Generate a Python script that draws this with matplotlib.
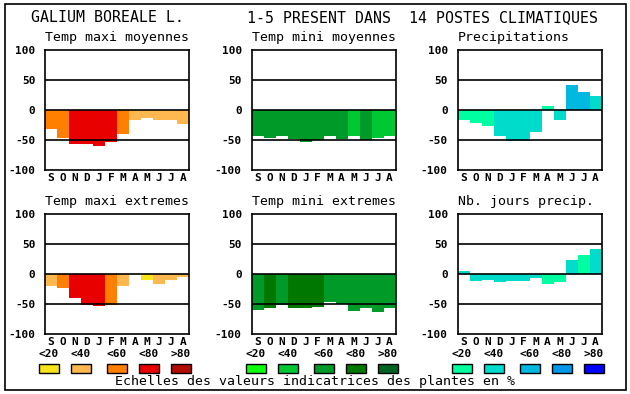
import matplotlib
matplotlib.use('Agg')
import matplotlib.pyplot as plt
import matplotlib.patches as patches

months = ['S', 'O', 'N', 'D', 'J', 'F', 'M', 'A', 'M', 'J', 'J', 'A']
classes = ['<20', '<40', '<60', '<80', '>80']

# colour scales (one per column of panels)
reds = ['#f8e418', '#ffb850', '#ff8000', '#e80000', '#b00c00']
greens = ['#10ff10', '#00c832', '#009a28', '#007800', '#006420']
blues = ['#00ffa0', '#00dccc', '#00b8e0', '#0098e8', '#0000ff']

titles = ['Temp maxi moyennes', 'Temp mini moyennes', 'Precipitations',
          'Temp maxi extremes', 'Temp mini extremes', 'Nb. jours precip.']

# values in % and colour class of each bar (-1 = white)
maxi_moy = [-31, -46, -56, -57, -60, -54, -40, -17, -14, -17, -16, -24]
maxi_moy_cls = [2, 2, 3, 3, 3, 3, 2, 1, 1, 1, 1, 1]
mini_moy = [-44, -46, -44, -48, -54, -50, -43, -48, -44, -50, -46, -43]
mini_moy_cls = [2, 2, 2, 2, 2, 2, 2, 2, 1, 2, 1, 1]
precip = [-16, -22, -27, -44, -52, -52, -37, 6, -17, 42, 30, 24]
precip_cls = [0, 0, 0, 1, 1, 1, 1, 0, 1, 2, 2, 1]
maxi_ext = [-20, -24, -40, -52, -54, -52, -20, -2, -10, -17, -10, -5]
maxi_ext_cls = [1, 2, 3, 3, 3, 2, 1, -1, 0, 1, 1, 1]
mini_ext = [-60, -57, -52, -57, -57, -55, -46, -50, -62, -56, -64, -57]
mini_ext_cls = [2, 3, 2, 3, 3, 3, 2, 2, 2, 2, 2, 2]
jours = [5, -12, -10, -14, -12, -12, -6, -17, -14, 24, 32, 42]
jours_cls = [1, 1, 1, 1, 1, 1, 1, 0, 0, 1, 0, 1]

W, H = 630, 394
fig = plt.figure(figsize=(W / 100, H / 100), dpi=100)
mono = 'DejaVu Sans Mono'


def box(left, top, w, h):
    return [left / W, 1 - (top + h) / H, w / W, h / H]


panel_left = [45, 251.5, 457.5]
panel_top = [50, 214]
pw, ph = 144, 120

panels = [
    (maxi_moy, maxi_moy_cls, reds), (mini_moy, mini_moy_cls, greens), (precip, precip_cls, blues),
    (maxi_ext, maxi_ext_cls, reds), (mini_ext, mini_ext_cls, greens), (jours, jours_cls, blues),
]

for i, (vals, cls, scale) in enumerate(panels):
    row, col = divmod(i, 3)
    ax = fig.add_axes(box(panel_left[col], panel_top[row], pw, ph))
    colors = [scale[c] if c >= 0 else 'white' for c in cls]
    ax.bar(range(12), vals, width=1.0, color=colors, linewidth=0, zorder=1)
    for y in (-50, 0, 50):
        ax.axhline(y, color='black', lw=1.2, zorder=3)
    ax.set_xlim(-0.5, 11.5)
    ax.set_ylim(-100, 100)
    ax.set_xticks(range(12))
    ax.set_xticklabels(months, family=mono, fontweight='bold', fontsize=8)
    ax.set_yticks([-100, -50, 0, 50, 100])
    ax.set_yticklabels(['-100', '-50', '0', '50', '100'], family=mono,
                       fontweight='bold', fontsize=8)
    ax.tick_params(length=0, pad=2)
    ax.tick_params(axis='y', pad=7)
    for s in ax.spines.values():
        s.set_linewidth(1.2)
    fig.text(panel_left[col] / W, 1 - (panel_top[row] - 12) / H, titles[i],
             family=mono, fontsize=9.5, va='center', ha='left')

# legend of colour classes
offsets = [4, 36, 72, 104, 136]
for col, scale in enumerate([reds, greens, blues]):
    for k, c in enumerate(scale):
        cx = panel_left[col] + offsets[k]
        fig.text(cx / W, 1 - 354 / H, classes[k], family=mono, fontweight='bold',
                 fontsize=8, ha='center', va='center')
        fig.add_artist(patches.Rectangle(((cx - 10) / W, 1 - 373 / H), 20 / W, 9 / H,
                                         facecolor=c, edgecolor='black', lw=1,
                                         transform=fig.transFigure))

fig.text(315 / W, 1 - 382 / H, 'Echelles des valeurs indicatrices des plantes en %',
         family=mono, fontsize=9.5, ha='center', va='center')

fig.text(31 / W, 1 - 18 / H, 'GALIUM BOREALE L.', family=mono, fontsize=10.7,
         ha='left', va='center')
fig.text(247 / W, 1 - 18 / H, '1-5 PRESENT DANS  14 POSTES CLIMATIQUES', family=mono,
         fontsize=10.7, ha='left', va='center')

fig.add_artist(patches.Rectangle((4.5 / W, 1 - 390 / H), 621 / W, 386 / H,
                                 fill=False, edgecolor='black', lw=1.2,
                                 transform=fig.transFigure))

fig.savefig('out.png', dpi=100)
